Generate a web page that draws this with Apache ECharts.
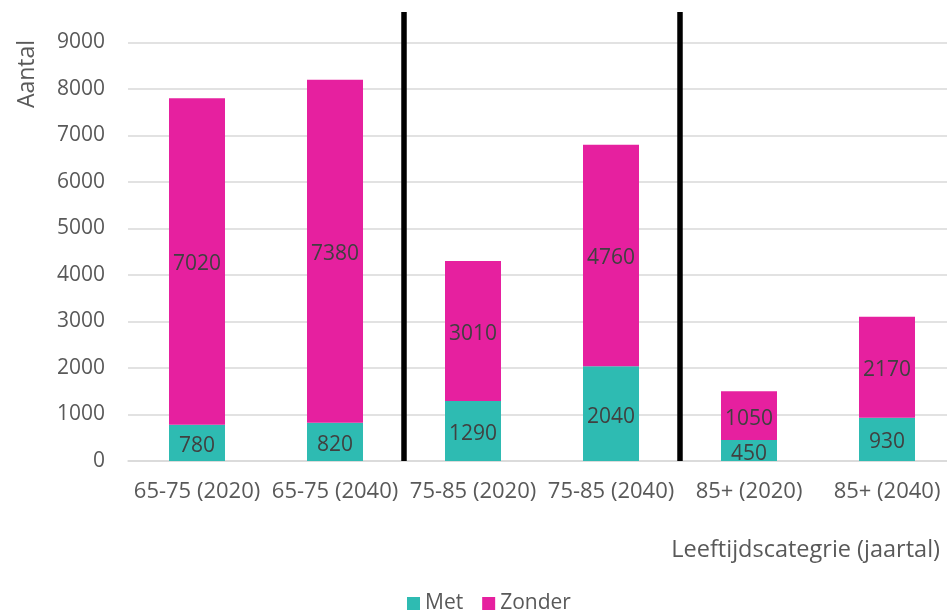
<!DOCTYPE html>
<html>
<head>
<meta charset="utf-8">
<script src="https://cdn.jsdelivr.net/npm/echarts@6/dist/echarts.min.js"></script>
<style>html,body{margin:0;padding:0;background:#fff;overflow:hidden}#c{width:956px;height:610px}</style>
</head>
<body>
<div id="c"></div>
<script>
var categories = ['65-75 (2020)', '65-75 (2040)', '75-85 (2020)', '75-85 (2040)', '85+ (2020)', '85+ (2040)'];
var metValues = [780, 820, 1290, 2040, 450, 930];
var zonderValues = [7020, 7380, 3010, 4760, 1050, 2170];
var separatorPositions = [2, 4];
var yTicks = { min: 0, max: 9000, interval: 1000 };
var seriesNames = ['Met', 'Zonder'];
var yAxisTitle = 'Aantal';
var xAxisTitle = 'Leeftijdscategrie (jaartal)';

var FONT = '"Open Sans", sans-serif';
var chart = echarts.init(document.getElementById('c'), null, { renderer: 'canvas' });

var labelStyle = { show: true, position: 'inside', color: '#404040', fontSize: 21, fontFamily: FONT, offset: [0, 3] };

chart.setOption({
  animation: false,
  backgroundColor: '#ffffff',
  grid: [
    { left: 128, right: 0, top: 42.5, bottom: 149, containLabel: false },
    { left: 128, right: 0, top: 12, bottom: 149, containLabel: false }
  ],
  legend: {
    data: seriesNames,
    top: 593,
    left: 407,
    padding: 0,
    icon: 'rect',
    itemWidth: 13,
    itemHeight: 13,
    itemGap: 19,
    textStyle: { color: '#595959', fontSize: 21, fontFamily: FONT }
  },
  xAxis: [
    {
      gridIndex: 0,
      type: 'category',
      data: categories,
      axisLine: { show: true, lineStyle: { color: '#D9D9D9', width: 1.5 } },
      axisTick: { show: false },
      axisLabel: { color: '#595959', fontSize: 22, fontFamily: FONT, margin: 20, interval: 0 }
    },
    {
      gridIndex: 1, type: 'value', min: 0, max: categories.length, show: false
    }
  ],
  yAxis: [
    {
      gridIndex: 0,
      type: 'value',
      min: yTicks.min, max: yTicks.max, interval: yTicks.interval,
      axisLine: { show: false },
      axisTick: { show: false },
      axisLabel: { color: '#595959', fontSize: 21, fontFamily: FONT, margin: 23, formatter: function (v) { return String(v); } },
      splitLine: { lineStyle: { color: '#D9D9D9', width: 1.5 } }
    },
    {
      gridIndex: 1, type: 'value', min: 0, max: 1, show: false
    }
  ],
  graphic: [
    {
      type: 'text', x: 27, y: 74, rotation: Math.PI / 2,
      style: { text: yAxisTitle, fill: '#595959', font: '23px ' + FONT, textAlign: 'center', textVerticalAlign: 'middle' }
    },
    {
      type: 'text', x: 940, y: 550,
      style: { text: xAxisTitle, fill: '#595959', font: '23.5px ' + FONT, textAlign: 'right', textVerticalAlign: 'middle' }
    }
  ],
  series: [
    {
      name: seriesNames[0], type: 'bar', stack: 'total', data: metValues,
      xAxisIndex: 0, yAxisIndex: 0,
      barWidth: 56,
      itemStyle: { color: '#2EBBB2' },
      label: labelStyle
    },
    {
      name: seriesNames[1], type: 'bar', stack: 'total', data: zonderValues,
      xAxisIndex: 0, yAxisIndex: 0,
      barWidth: 56,
      itemStyle: { color: '#E6209F' },
      label: labelStyle
    },
    {
      type: 'lines', coordinateSystem: 'cartesian2d',
      xAxisIndex: 1, yAxisIndex: 1,
      silent: true,
      data: separatorPositions.map(function (p) { return { coords: [[p, 0], [p, 1]] }; }),
      lineStyle: { color: '#000000', width: 5.5, opacity: 1 }
    }
  ]
});
</script>
</body>
</html>
